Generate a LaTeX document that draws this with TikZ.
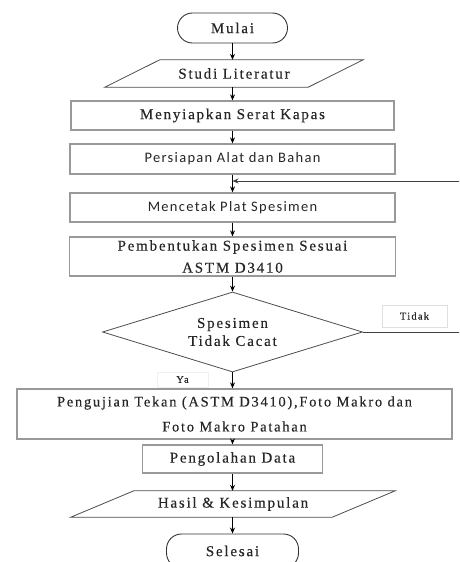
\documentclass[tikz,border=0pt]{standalone}
\usepackage{fontspec}
\newfontfamily\tnr{Liberation Serif}[LetterSpace=12,FakeBold=0.3]
\newfontfamily\calfont{Carlito}[LetterSpace=9]
\usetikzlibrary{shapes.geometric,arrows.meta}
\begin{document}
\begin{tikzpicture}[x=1pt,y=-1pt,
 txt/.style={font=\tnr\fontsize{15}{20}\selectfont, text=black!85},
 box/.style={draw=gray!80, line width=1.3pt, rectangle, inner sep=0pt, txt},
 term/.style={draw=black!80, line width=0.9pt, rounded corners=15pt, inner sep=0pt, txt},
 io/.style={rectangle, inner sep=0pt, txt},
 iol/.style={draw=black!70, line width=0.8pt},
 dec/.style={draw=black!70, line width=0.8pt, diamond, aspect=3.25, minimum width=260pt, minimum height=80pt, inner sep=0pt, align=center, text=black!85, font=\tnr\fontsize{15}{18}\selectfont},
 lbl/.style={draw=gray!25, line width=0.8pt, inner sep=0pt, text=black!85, font=\tnr\fontsize{10.5}{12}\selectfont},
 arr/.style={-{Stealth[length=6pt,width=5pt]}, line width=0.9pt}]
\useasboundingbox (0,0) rectangle (459,562);
\begin{scope}
\clip (0,0) rectangle (459,562);
\node[term, minimum width=110pt, minimum height=30pt] (mulai) at (232.5,28) {Mulai};
\node[io, minimum width=203pt, minimum height=27pt] (studi) at (234,73.5) {Studi Literatur};
\draw[iol] ([xshift=27.5pt]studi.north west) -- ([xshift=27.5pt]studi.north east) -- ([xshift=-27.5pt]studi.south east) -- ([xshift=-27.5pt]studi.south west) -- cycle;
\node[box, minimum width=323pt, minimum height=29pt] (siap) at (232.5,115.5) {Menyiapkan Serat Kapas};
\node[box, minimum width=325pt, minimum height=30pt, font=\calfont\fontsize{14.5}{18}\selectfont] (alat) at (232.5,159) {Persiapan Alat dan Bahan};
\node[box, minimum width=325pt, minimum height=29pt, font=\calfont\fontsize{14.5}{18}\selectfont] (cetak) at (232.5,207.5) {Mencetak Plat Spesimen};
\node[box, minimum width=326pt, minimum height=39pt, align=center, font=\tnr\fontsize{15}{22}\selectfont] (bentuk) at (232.5,256.5) {Pembentukan Spesimen Sesuai\\ASTM D3410};
\node[dec] (cek) at (232.5,332) {Spesimen\\Tidak Cacat};
\node[lbl, minimum width=65pt, minimum height=22pt] (tidak) at (414.5,316) {Tidak};
\node[lbl, minimum width=51pt, minimum height=15pt, draw=gray!12] (ya) at (182.5,379.5) {Ya};
\node[box, minimum width=435pt, minimum height=50pt, align=center, font=\tnr\fontsize{14.5}{25}\selectfont] (uji) at (234.5,414) {Pengujian Tekan (ASTM D3410),Foto Makro dan\\Foto Makro Patahan};
\node[box, minimum width=180pt, minimum height=28pt] (olah) at (232.5,459) {Pengolahan Data};
\node[io, minimum width=261pt, minimum height=26pt] (hasil) at (233,504) {Hasil \& Kesimpulan};
\draw[iol] ([xshift=31.5pt]hasil.north west) -- ([xshift=31.5pt]hasil.north east) -- ([xshift=-31.5pt]hasil.south east) -- ([xshift=-31.5pt]hasil.south west) -- cycle;
\node[term, minimum width=132pt, minimum height=34pt] (selesai) at (232.5,551) {Selesai};
\coordinate (join) at (232.5,181);
\draw[arr] (mulai) -- (mulai |- studi.north);
\draw[arr] (studi.south -| siap.north) -- (siap);
\draw[arr] (siap) -- (alat);
\draw[arr] (alat) -- (cetak);
\draw[arr] (cetak) -- (bentuk);
\draw[arr] (bentuk) -- (cek);
\draw[arr] (cek) -- (cek.south |- uji.north);
\draw[arr] (uji.south -| olah.north) -- (olah);
\draw[arr] (olah) -- (olah |- hasil.north);
\draw[arr] (hasil.south -| selesai.north) -- (selesai);
\draw[arr, draw=black!75] (cek.east) -- (463,332) -- (463,181) -- (join);
\end{scope}
\end{tikzpicture}
\end{document}
